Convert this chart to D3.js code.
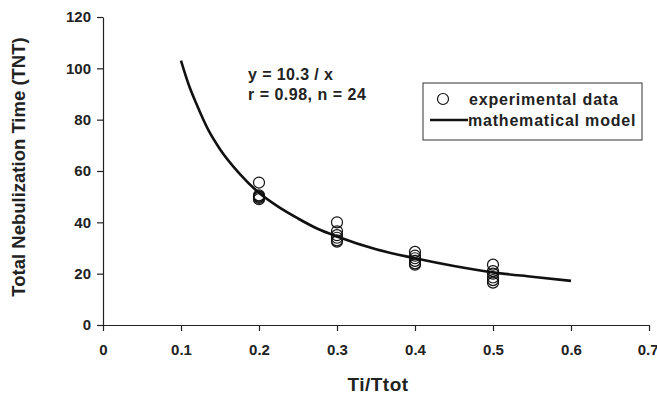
<!DOCTYPE html>
<html>
<head>
<meta charset="utf-8">
<script src="https://cdn.jsdelivr.net/npm/d3@7"></script>
<style>
  body { margin: 0; background: #fff; }
  svg text { font-family: "Liberation Sans", Arial, sans-serif; font-weight: bold; fill: #222; }
</style>
</head>
<body>
<div id="chart"></div>
<script>
// experimental data (Ti/Ttot -> TNT)
const expX = [0.2, 0.2, 0.2, 0.2, 0.2, 0.2,
              0.3, 0.3, 0.3, 0.3, 0.3, 0.3,
              0.4, 0.4, 0.4, 0.4, 0.4, 0.4,
              0.5, 0.5, 0.5, 0.5, 0.5, 0.5];
const expY = [55.5, 50.5, 49.5, 49, 50, 50,
              40, 36.5, 35, 34, 33, 32.5,
              28.5, 27, 26, 25, 24, 23.5,
              23.5, 21, 20, 18.5, 17.5, 16.5];

// model curve
const modelX = [0.1, 0.11, 0.12, 0.135, 0.15, 0.175, 0.2, 0.225, 0.25, 0.275, 0.3, 0.35, 0.4, 0.45, 0.5, 0.55, 0.6];
const modelY = [103, 93.5, 86, 76, 68.5, 59, 51.5, 46, 41.5, 37.5, 34.5, 29.5, 26, 23, 20.5, 18.8, 17.2];

const xTicks = [0, 0.1, 0.2, 0.3, 0.4, 0.5, 0.6, 0.7];
const yTicks = [0, 20, 40, 60, 80, 100, 120];

const W = 657, H = 396;
const margin = {top: 17, right: 8, bottom: 71, left: 103};

const svg = d3.select('#chart').append('svg')
    .attr('width', W)
    .attr('height', H);

const x = d3.scaleLinear().domain([0, 0.7]).range([margin.left, W - margin.right]);
const y = d3.scaleLinear().domain([0, 120]).range([H - margin.bottom, margin.top]);

// axes
const xAxis = svg.append('g')
    .attr('transform', `translate(0, ${y(0)})`)
    .call(d3.axisBottom(x).tickValues(xTicks).tickSize(6).tickSizeOuter(0)
      .tickFormat(d => d === 0 ? '0' : d3.format('.1f')(d)));
const yAxis = svg.append('g')
    .attr('transform', `translate(${x(0)}, 0)`)
    .call(d3.axisLeft(y).tickValues(yTicks).tickSize(6).tickSizeOuter(0));

[xAxis, yAxis].forEach(g => {
  g.select('.domain').attr('stroke', '#222').attr('stroke-width', 1.2);
  g.selectAll('.tick line').attr('stroke', '#222').attr('stroke-width', 1.2);
  g.selectAll('text').attr('font-size', 15).attr('fill', '#222');
});
xAxis.selectAll('text').attr('dy', '1.4em');
yAxis.selectAll('text').attr('x', -12);
// last label sits against the right edge
xAxis.selectAll('.tick text').filter(d => d === 0.7).attr('text-anchor', 'end').attr('dx', 9);

// axis titles
svg.append('text')
    .attr('x', x(0.35) + 2)
    .attr('y', 391)
    .attr('text-anchor', 'middle')
    .attr('font-size', 19)
    .attr('letter-spacing', 0.5)
    .text('Ti/Ttot');

svg.append('text')
    .attr('transform', `translate(25, ${y(60) - 4}) rotate(-90)`)
    .attr('text-anchor', 'middle')
    .attr('font-size', 18.5)
    .text('Total Nebulization Time (TNT)');

// model curve
const line = d3.line()
    .x((d, i) => x(modelX[i]))
    .y(d => y(d))
    .curve(d3.curveMonotoneX);

svg.append('path')
    .datum(modelY)
    .attr('fill', 'none')
    .attr('stroke', '#111')
    .attr('stroke-width', 2.6)
    .attr('d', line);

// experimental points
svg.append('g').selectAll('circle')
    .data(expY)
    .enter()
    .append('circle')
    .attr('cx', (d, i) => x(expX[i]))
    .attr('cy', d => y(d))
    .attr('r', 5.5)
    .attr('fill', 'none')
    .attr('stroke', '#111')
    .attr('stroke-width', 1.2);

// fit annotation
svg.append('text')
    .attr('x', 248).attr('y', 80)
    .attr('font-size', 16)
    .attr('letter-spacing', 0.4)
    .text('y = 10.3 / x');
svg.append('text')
    .attr('x', 248).attr('y', 100)
    .attr('font-size', 16)
    .attr('letter-spacing', 0.5)
    .text('r = 0.98, n = 24');

// legend
const legend = svg.append('g');
legend.append('rect')
    .attr('x', 423).attr('y', 83)
    .attr('width', 219).attr('height', 57)
    .attr('fill', '#fff')
    .attr('stroke', '#333')
    .attr('stroke-width', 1);
legend.append('circle')
    .attr('cx', 443).attr('cy', 99)
    .attr('r', 5.5)
    .attr('fill', 'none')
    .attr('stroke', '#111')
    .attr('stroke-width', 1.2);
legend.append('text')
    .attr('x', 469).attr('y', 105)
    .attr('font-size', 16)
    .attr('letter-spacing', 0.8)
    .text('experimental data');
legend.append('line')
    .attr('x1', 430).attr('x2', 468)
    .attr('y1', 120).attr('y2', 120)
    .attr('stroke', '#111')
    .attr('stroke-width', 2.6);
legend.append('text')
    .attr('x', 468).attr('y', 126)
    .attr('font-size', 16)
    .attr('letter-spacing', 0.8)
    .text('mathematical model');
</script>
</body>
</html>
